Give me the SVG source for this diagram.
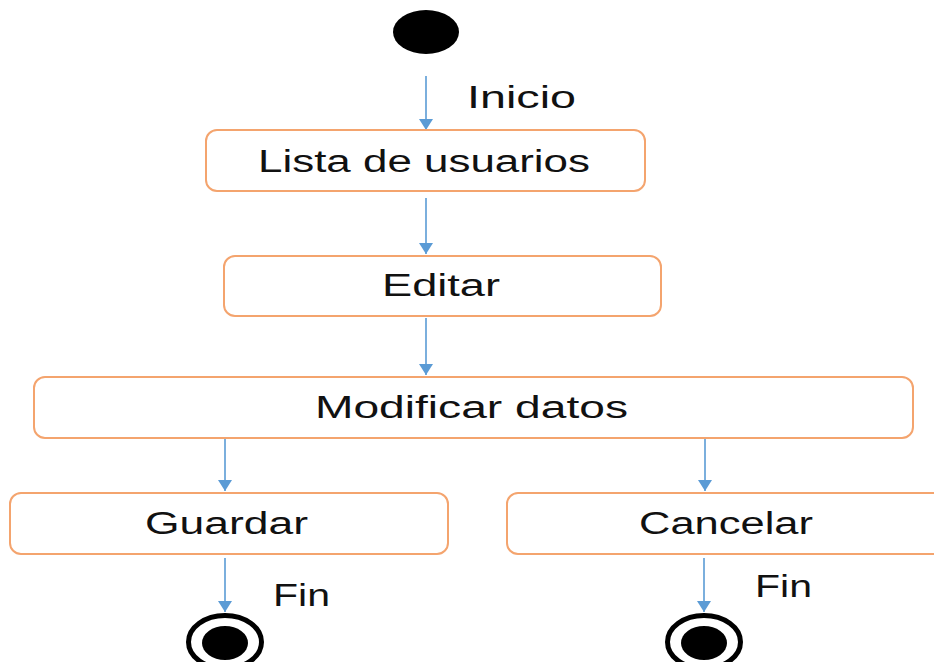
<svg xmlns="http://www.w3.org/2000/svg" width="934" height="662" viewBox="0 0 934 662">
<style>
.box{fill:#fff;stroke:#F4A46E;stroke-width:2}
.lbl{font-family:"Liberation Sans","Open Sans",sans-serif;font-size:31px;fill:#111}
.c{stroke:#5B9BD5;stroke-width:1.6;fill:none;marker-end:url(#ah)}
</style>
<defs>
<marker id="ah" viewBox="0 0 11 14" refX="11" refY="7" markerWidth="11" markerHeight="14" markerUnits="userSpaceOnUse" orient="auto">
<path d="M0,0 L11,7 L0,14 Z" fill="#5B9BD5"/>
</marker>
</defs>
<rect width="934" height="662" fill="#fff"/>
<g id="connectors">
<line class="c" x1="426" y1="76" x2="426" y2="130"/>
<line class="c" x1="426" y1="198" x2="426" y2="254"/>
<line class="c" x1="426" y1="318" x2="426" y2="375"/>
<line class="c" x1="225" y1="439" x2="225" y2="491"/>
<line class="c" x1="705" y1="439" x2="705" y2="491"/>
<line class="c" x1="225" y1="558" x2="225" y2="612"/>
<line class="c" x1="704" y1="558" x2="704" y2="612"/>
<text class="lbl" x="467" y="108" textLength="109" lengthAdjust="spacingAndGlyphs">Inicio</text>
<text class="lbl" x="273" y="606" textLength="57" lengthAdjust="spacingAndGlyphs">Fin</text>
<text class="lbl" x="755" y="597" textLength="57" lengthAdjust="spacingAndGlyphs">Fin</text>
</g>
<g id="start">
<ellipse cx="426" cy="32" rx="33" ry="22" fill="#000"/>
</g>
<g id="lista">
<rect class="box" x="206" y="130" width="439" height="61" rx="11"/>
<text class="lbl" x="258" y="172" textLength="332" lengthAdjust="spacingAndGlyphs">Lista de usuarios</text>
</g>
<g id="editar">
<rect class="box" x="224" y="256" width="437" height="60" rx="11"/>
<text class="lbl" x="382" y="296" textLength="118" lengthAdjust="spacingAndGlyphs">Editar</text>
</g>
<g id="modificar">
<rect class="box" x="34" y="377" width="879" height="61" rx="11"/>
<text class="lbl" x="315" y="418" textLength="313" lengthAdjust="spacingAndGlyphs">Modificar datos</text>
</g>
<g id="guardar">
<rect class="box" x="10" y="493" width="438" height="61" rx="11"/>
<text class="lbl" x="145" y="534" textLength="163" lengthAdjust="spacingAndGlyphs">Guardar</text>
</g>
<g id="cancelar">
<rect class="box" x="507" y="493" width="445" height="61" rx="11"/>
<text class="lbl" x="639" y="534" textLength="174" lengthAdjust="spacingAndGlyphs">Cancelar</text>
</g>
<g id="end1">
<ellipse cx="225" cy="642" rx="36.5" ry="26.5" fill="#fff" stroke="#000" stroke-width="5"/>
<ellipse cx="225" cy="643" rx="23" ry="17" fill="#000"/>
</g>
<g id="end2">
<ellipse cx="704" cy="642" rx="36.5" ry="26.5" fill="#fff" stroke="#000" stroke-width="5"/>
<ellipse cx="704" cy="643" rx="23" ry="17" fill="#000"/>
</g>
</svg>
